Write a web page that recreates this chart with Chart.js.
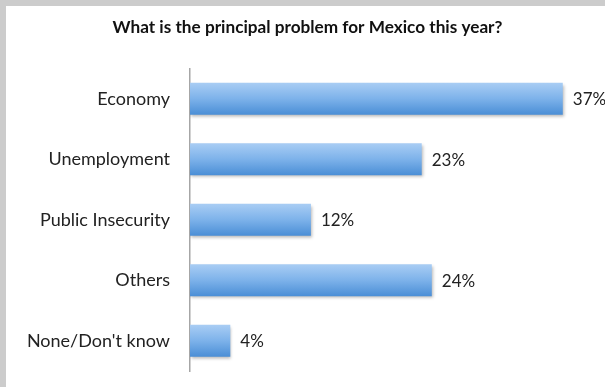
<!DOCTYPE html>
<html>
<head>
<meta charset="utf-8">
<script src="https://cdn.jsdelivr.net/npm/chart.js@4"></script>
<style>
  html, body { margin: 0; padding: 0; }
  body { width: 605px; height: 387px; background: #cccccc; position: relative; overflow: hidden; }
  #wrap { position: absolute; left: 6px; top: 6px; width: 599px; height: 381px; background: #ffffff; }
  canvas { display: block; }
</style>
</head>
<body>
<div id="wrap"><canvas id="c" width="599" height="381"></canvas></div>
<script>
const titleText = "What is the principal problem for Mexico this year?";
const categories = ["Economy", "Unemployment", "Public Insecurity", "Others", "None/Don't know"];
const values = [37, 23, 12, 24, 4];
const valueLabels = ["37%", "23%", "12%", "24%", "4%"];

const BAR_PCT = 0.53;
const FONT = "Lato, 'Open Sans', sans-serif";

function barGradient(ctx) {
  const chart = ctx.chart;
  const ys = chart.scales && chart.scales.y;
  if (!ys || ys.height === undefined || !chart.chartArea) return '#6aa6e4';
  const cy = ys.getPixelForValue(ctx.dataIndex);
  const half = (ys.height / categories.length) * BAR_PCT / 2;
  const g = chart.ctx.createLinearGradient(0, cy - half, 0, cy + half);
  g.addColorStop(0, '#a9cdf4');
  g.addColorStop(0.5, '#7db2ea');
  g.addColorStop(1, '#4a8ed6');
  return g;
}

const shadowPlugin = {
  id: 'barShadow',
  beforeDatasetsDraw(chart) {
    const c = chart.ctx;
    c.save();
    c.shadowColor = 'rgba(0,0,0,0.28)';
    c.shadowBlur = 3;
    c.shadowOffsetX = 1;
    c.shadowOffsetY = 2;
  },
  afterDatasetsDraw(chart) {
    chart.ctx.restore();
  }
};

const valueLabelPlugin = {
  id: 'valueLabels',
  afterDraw(chart) {
    const c = chart.ctx;
    const meta = chart.getDatasetMeta(0);
    c.save();
    c.font = "17px " + FONT;
    c.fillStyle = '#222222';
    c.textAlign = 'left';
    c.textBaseline = 'middle';
    meta.data.forEach((el, i) => {
      c.fillText(valueLabels[i], el.x + 10, el.y + 1);
    });
    c.restore();
  }
};

new Chart(document.getElementById('c'), {
  type: 'bar',
  data: {
    labels: categories,
    datasets: [{
      data: values,
      backgroundColor: barGradient,
      borderWidth: 0,
      barPercentage: BAR_PCT,
      categoryPercentage: 1
    }]
  },
  options: {
    indexAxis: 'y',
    responsive: false,
    animation: false,
    events: [],
    layout: { padding: { left: 16, right: 12, top: 0, bottom: 16 } },
    plugins: {
      legend: { display: false },
      tooltip: { enabled: false },
      title: {
        display: true,
        text: titleText,
        color: '#111111',
        font: { family: FONT, size: 17.2, weight: 'bold' },
        padding: { top: 11, bottom: 30.8 }
      }
    },
    scales: {
      x: {
        display: false,
        min: 0,
        max: 40
      },
      y: {
        afterFit(scale) {
          scale.width = 168;
          scale.paddingTop = 0;
          scale.paddingBottom = 0;
        },
        border: { display: true, color: '#a6a6a6', width: 1.5 },
        grid: { display: false, drawTicks: false },
        ticks: {
          color: '#222222',
          padding: 20,
          font: { family: FONT, size: 18 }
        }
      }
    }
  },
  plugins: [shadowPlugin, valueLabelPlugin]
});
</script>
</body>
</html>
